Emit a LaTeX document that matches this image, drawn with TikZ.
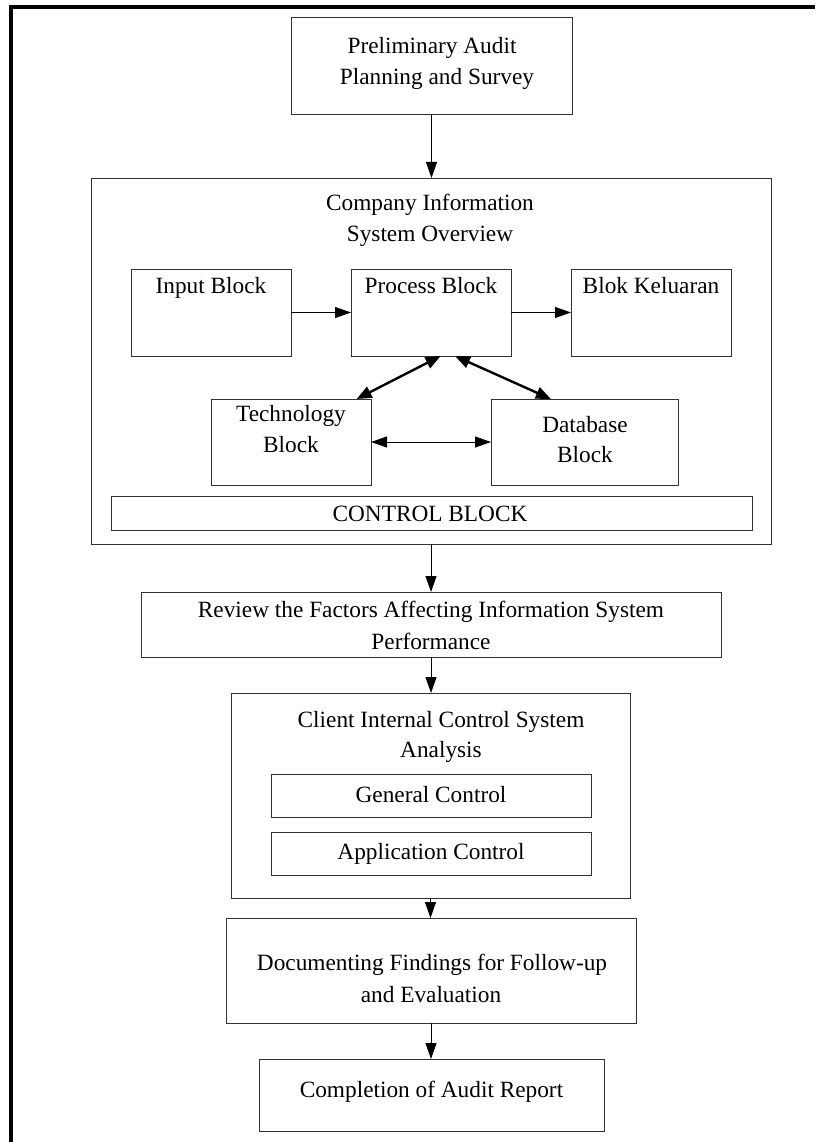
\documentclass[tikz,border=0pt]{standalone}
\usepackage{fontspec}
\setmainfont{Liberation Serif}
\usetikzlibrary{arrows.meta,calc}
\tikzset{
  box/.style={draw=black!80, line width=0.9pt, inner sep=0pt, outer sep=0pt, rectangle},
  txt/.style={inner sep=0pt, anchor=base, font=\fontsize{23.3}{32}\selectfont},
  arr/.style={-{Triangle[length=16pt,width=11pt]}, line width=0.9pt},
  darr/.style={{Triangle[length=16pt,width=11pt]}-{Triangle[length=16pt,width=11pt]}, line width=0.9pt},
  tarr/.style={{Triangle[length=15pt,width=12pt]}-{Triangle[length=15pt,width=12pt]}, line width=2.4pt},
  frame/.style={line width=4.5pt, black}
}
\begin{document}
\begin{tikzpicture}[x=1pt,y=-1pt]
\useasboundingbox (0,0) rectangle (815,1142);
% frame (top and left)
\coordinate (fl) at (11,1142);
\coordinate (fc) at (11,7);
\coordinate (fr) at (815,7);
\draw[frame] (fl) -- (fc) -- (fr);

% boxes
\node[box, minimum width=281pt, minimum height=97pt] (pre) at (431.5,65.5) {};
\node[box, minimum width=680pt, minimum height=366pt] (cis) at (431,361) {};
\node[box, minimum width=160pt, minimum height=87pt] (inp) at (211,312.5) {};
\node[box, minimum width=160pt, minimum height=87pt] (proc) at (431,312.5) {};
\node[box, minimum width=160pt, minimum height=87pt] (out) at (651,312.5) {};
\node[box, minimum width=160pt, minimum height=86pt] (tech) at (291,442) {};
\node[box, minimum width=187pt, minimum height=86pt] (db) at (584.5,442) {};
\node[box, minimum width=641pt, minimum height=34pt] (ctrl) at (431.5,513) {};
\node[box, minimum width=580pt, minimum height=65pt] (rev) at (431,624.5) {};
\node[box, minimum width=399pt, minimum height=205pt] (cli) at (430.5,795.5) {};
\node[box, minimum width=320pt, minimum height=43pt] (gen) at (431,795.5) {};
\node[box, minimum width=320pt, minimum height=43pt] (app) at (431,853.5) {};
\node[box, minimum width=410pt, minimum height=105pt] (doc) at (431,970.5) {};
\node[box, minimum width=345pt, minimum height=72pt] (comp) at (431.5,1095) {};

% texts
\node[txt] (preA) at (432,54) {Preliminary Audit};
\node[txt] (preB) at (437,85) {Planning and Survey};
\node[txt] (cisA) at (430,210) {Company Information};
\node[txt] (cisB) at (430,241) {System Overview};
\node[txt] (inpT) at (211,293) {Input Block};
\node[txt] (procT) at (431,293) {Process Block};
\node[txt] (outT) at (651,293) {Blok Keluaran};
\node[txt] (techA) at (291,421) {Technology};
\node[txt] (techB) at (291,452) {Block};
\node[txt] (dbA) at (585,432) {Database};
\node[txt] (dbB) at (585,462) {Block};
\node[txt] (ctrlT) at (430,521) {CONTROL BLOCK};
\node[txt] (revA) at (431,617) {Review the Factors Affecting Information System};
\node[txt] (revB) at (431,649) {Performance};
\node[txt] (cliA) at (441,727) {Client Internal Control System};
\node[txt] (cliB) at (441,757) {Analysis};
\node[txt] (genT) at (431,802) {General Control};
\node[txt] (appT) at (431,859) {Application Control};
\node[txt] (docA) at (432,970) {Documenting Findings for Follow-up};
\node[txt] (docB) at (431,1002) {and Evaluation};
\node[txt] (compT) at (431.5,1097) {Completion of Audit Report};

% connectors
\draw[arr] (pre.south) -- (pre.south |- cis.north);
\draw[arr] (inp.east) -- (proc.west);
\draw[arr] (proc.east) -- (out.west);
\draw[tarr] ($(proc.south west)!0.56!(proc.south east)$) -- ($(tech.north west)!0.91!(tech.north east)$);
\draw[tarr] ($(proc.south west)!0.65!(proc.south east)$) -- ($(db.north west)!0.32!(db.north east)$);
\draw[darr] (tech.east) -- (db.west);
\draw[arr] (cis.south) -- (cis.south |- rev.north);
\draw[arr] (rev.south) -- (rev.south |- cli.north);
\draw[arr] (cli.south) -- (cli.south |- doc.north);
\draw[arr] (doc.south) -- (doc.south |- comp.north);
\end{tikzpicture}
\end{document}
